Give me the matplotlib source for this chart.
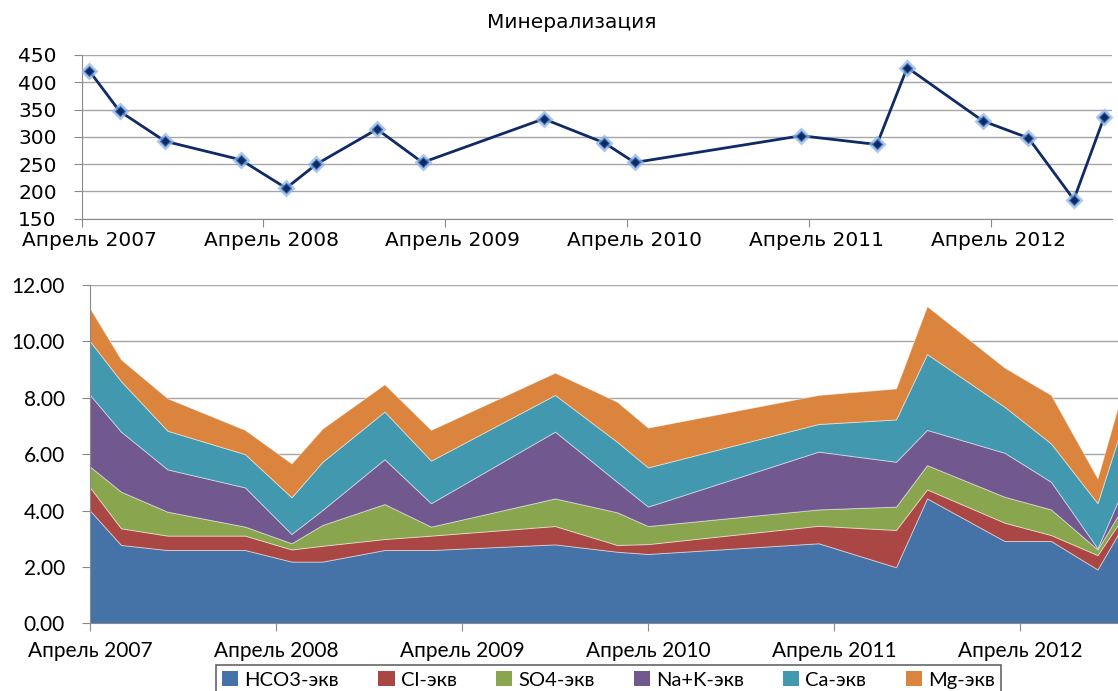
import numpy as np
import pandas as pd
import matplotlib
matplotlib.use('Agg')
import matplotlib.pyplot as plt
from matplotlib.patches import Patch

# даты отбора проб (месяц)
dates = ['2007-04', '2007-06', '2007-09', '2008-02', '2008-05', '2008-07',
         '2008-11', '2009-02', '2009-10', '2010-02', '2010-04', '2011-03',
         '2011-08', '2011-10', '2012-03', '2012-06', '2012-09', '2012-11']

# минерализация, мг/л
mineral = [421, 347, 292, 258, 206, 250, 314, 253, 333, 289, 253, 302,
           286, 427, 329, 298, 185, 336]

# ионы, мг-экв/л
hco3 = [4.00, 2.78, 2.60, 2.60, 2.19, 2.19, 2.60, 2.60, 2.80, 2.54, 2.46, 2.84,
        1.99, 4.43, 2.92, 2.92, 1.91, 3.80]
cl = [0.82, 0.59, 0.51, 0.51, 0.43, 0.56, 0.39, 0.51, 0.65, 0.24, 0.35, 0.62,
      1.32, 0.32, 0.65, 0.21, 0.51, 0.25]
so4 = [0.74, 1.30, 0.85, 0.32, 0.22, 0.74, 1.24, 0.32, 0.98, 1.16, 0.64, 0.58,
       0.83, 0.86, 0.92, 0.91, 0.20, 0.40]
nak = [2.54, 2.13, 1.50, 1.39, 0.33, 0.53, 1.59, 0.83, 2.37, 1.08, 0.69, 2.05,
       1.59, 1.25, 1.56, 0.98, 0.04, 0.75]
ca = [1.90, 1.79, 1.37, 1.18, 1.30, 1.71, 1.69, 1.51, 1.30, 1.42, 1.39, 0.98,
      1.50, 2.69, 1.63, 1.36, 1.60, 2.50]
mg = [1.17, 0.77, 1.15, 0.86, 1.20, 1.18, 0.97, 1.09, 0.79, 1.42, 1.41, 1.03,
      1.10, 1.70, 1.39, 1.72, 0.88, 1.30]

ion_names = ['HCO3-экв', 'Cl-экв', 'SO4-экв', 'Na+K-экв', 'Ca-экв', 'Mg-экв']
ion_colors = ['#4572A7', '#AA4643', '#89A54E', '#71588F', '#4198AF', '#DB843D']

year_labels = ['Апрель 2007', 'Апрель 2008', 'Апрель 2009',
               'Апрель 2010', 'Апрель 2011', 'Апрель 2012']

# номер месяца от апреля 2007
per = pd.PeriodIndex(dates, freq='M')
months = np.array((per.year - 2007) * 12 + per.month - 4, dtype=float)
year_pos = np.arange(len(year_labels)) * 12

W, H = 1118, 691
fig = plt.figure(figsize=(W / 100, H / 100), dpi=100)

grid_c = '#a6a6a6'
axis_c = '#8a8a8a'


def fr(left, top, right, bottom):
    return [left / W, 1 - bottom / H, (right - left) / W, (bottom - top) / H]


# ---- верхний график: минерализация ----
ax1 = fig.add_axes(fr(81.7, 55, 1111.7, 218.7))
ax1.plot(months + 0.5, mineral, color='#0f2a66', lw=2.0, zorder=3)
ax1.plot(months + 0.5, mineral, ls='none', marker='D', ms=9,
         color='#8fb4e3', alpha=0.75, mec='none', zorder=4)
ax1.plot(months + 0.5, mineral, ls='none', marker='D', ms=5.5,
         mfc='#0d2a63', mec='#3f74b8', mew=0.8, zorder=5)
ax1.set_xlim(0, 68)
ax1.set_ylim(150, 450)
ax1.set_yticks(np.arange(150, 451, 50))
ax1.set_xticks(year_pos)
ax1.set_xticklabels([])
ax1.set_xticks(year_pos + 0.5, minor=True)
ax1.set_xticklabels(year_labels, minor=True)
ax1.tick_params(axis='x', which='major', length=6, color=axis_c, direction='out')
ax1.tick_params(axis='x', which='minor', length=0, pad=9)
ax1.tick_params(axis='y', length=6, color=axis_c, pad=12)
for lab in ax1.get_xticklabels(minor=True) + ax1.get_yticklabels():
    lab.set_fontfamily('DejaVu Sans')
    lab.set_fontsize(14.5)
ax1.grid(axis='y', color=grid_c, lw=1)
ax1.set_axisbelow(True)
for s in ['top', 'right']:
    ax1.spines[s].set_visible(False)
for s in ['left', 'bottom']:
    ax1.spines[s].set_color(axis_c)

fig.text(571.5 / W, 1 - 22 / H, 'Минерализация', ha='center', va='center',
         fontsize=14.5, family='DejaVu Sans')

# ---- нижний график: ионный состав ----
ax2 = fig.add_axes(fr(90, 285, 1128.5, 623.3))
ax2.stackplot(months, hco3, cl, so4, nak, ca, mg, colors=ion_colors,
              edgecolor=(1, 1, 1, 0.45), linewidth=0.7, zorder=2)
ax2.set_xlim(0, 67)
ax2.set_ylim(0, 12)
ax2.set_yticks(np.arange(0, 12.1, 2))
ax2.set_yticklabels(['%.2f' % v for v in np.arange(0, 12.1, 2)])
ax2.set_xticks(year_pos)
ax2.set_xticklabels(year_labels)
ax2.tick_params(axis='x', length=6, color=axis_c, pad=7)
ax2.tick_params(axis='y', length=6, color=axis_c, pad=12)
for lab in ax2.get_xticklabels() + ax2.get_yticklabels():
    lab.set_fontfamily('Lato')
    lab.set_fontsize(15)
ax2.grid(axis='y', color=grid_c, lw=1)
ax2.set_axisbelow(True)
for s in ['top', 'right']:
    ax2.spines[s].set_visible(False)
for s in ['left', 'bottom']:
    ax2.spines[s].set_color(axis_c)

handles = [Patch(facecolor=c, edgecolor='none', label=n)
           for n, c in zip(ion_names, ion_colors)]
leg = fig.legend(handles=handles, loc='upper center', ncol=6,
                 bbox_to_anchor=(608.5 / W, 1 - 665 / H),
                 frameon=True, fancybox=False, borderaxespad=0,
                 borderpad=0.3, handlelength=0.8, handleheight=0.8,
                 handletextpad=0.3, columnspacing=1.95,
                 prop={'family': 'Lato', 'size': 14.5})
leg.get_frame().set_edgecolor('#404040')
leg.get_frame().set_linewidth(1.2)

fig.savefig('out.png', dpi=100)
